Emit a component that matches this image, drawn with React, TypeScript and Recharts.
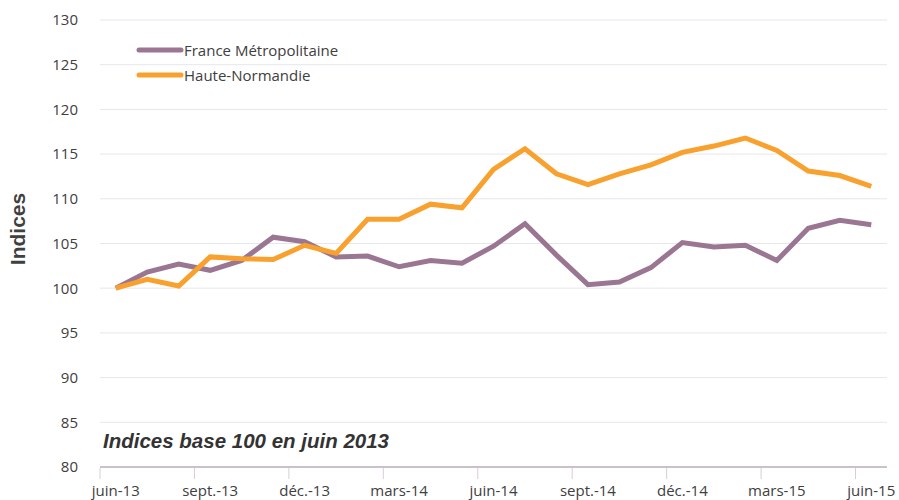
import { LineChart, Line, XAxis, YAxis, CartesianGrid } from "recharts";

document.body.style.margin = "0";

const months = [
    "juin-13", "juil.-13", "août-13", "sept.-13", "oct.-13", "nov.-13", "déc.-13",
    "janv.-14", "févr.-14", "mars-14", "avr.-14", "mai-14", "juin-14", "juil.-14",
    "août-14", "sept.-14", "oct.-14", "nov.-14", "déc.-14", "janv.-15", "févr.-15",
    "mars-15", "avr.-15", "mai-15", "juin-15",
];

const franceMetro = [
    100, 101.8, 102.7, 102.0, 103.1, 105.7, 105.2, 103.5, 103.6, 102.4, 103.1, 102.8, 104.7,
    107.2, 103.7, 100.4, 100.7, 102.3, 105.1, 104.6, 104.8, 103.1, 106.7, 107.6, 107.1,
];

const hauteNormandie = [
    100, 101.0, 100.25, 103.5, 103.3, 103.2, 104.8, 103.9, 107.7, 107.7, 109.4, 109.0, 113.3,
    115.6, 112.8, 111.6, 112.8, 113.8, 115.2, 115.9, 116.8, 115.4, 113.1, 112.6, 111.4,
];

const yTicks = [80, 85, 90, 95, 100, 105, 110, 115, 120, 125, 130];

const data = months.map((m, i) => ({
    mois: m,
    france: franceMetro[i],
    haute: hauteNormandie[i],
}));

const PURPLE = "#9a7692";
const ORANGE = "#f8a12e";
const TEXT = "#404040";

function XTick(props: any) {
    const { x, y, payload } = props;
    const off = payload.offset || 0;
    const axisY = y - 2;
    return (
        <g>
            <line x1={x - off} x2={x - off} y1={axisY - 5} y2={axisY + 6} stroke="#d9cdd6" />
            <text x={x} y={y + 21} textAnchor="middle" fill={TEXT} fontSize={15}
                fontFamily="'Open Sans', sans-serif">
                {payload.value}
            </text>
        </g>
    );
}

const legendItems = [
    { label: "France Métropolitaine", color: PURPLE },
    { label: "Haute-Normandie", color: ORANGE },
];

export default function App() {
    return (
        <div style={{ position: "relative", width: 899, height: 500, background: "#fff" }}>
            <LineChart
                width={899}
                height={500}
                data={data}
                margin={{ top: 20, right: 12, bottom: 3, left: 40 }}
            >
                <CartesianGrid vertical={false} stroke="#e6e6ee" />
                <XAxis
                    dataKey="mois"
                    type="category"
                    scale="band"
                    interval={2}
                    tickLine={false}
                    axisLine={{ stroke: "#a38fa0" }}
                    tick={<XTick />}
                    height={30}
                />
                <YAxis
                    domain={[80, 130]}
                    ticks={yTicks}
                    interval={0}
                    axisLine={false}
                    tickLine={false}
                    width={60}
                    tickMargin={16}
                    tick={{ fill: TEXT, fontSize: 15, fontFamily: "'Open Sans', sans-serif" }}
                />
                <Line dataKey="france" stroke={PURPLE} strokeWidth={5} dot={false}
                    isAnimationActive={false} />
                <Line dataKey="haute" stroke={ORANGE} strokeWidth={5} dot={false}
                    isAnimationActive={false} />
            </LineChart>
            <div style={{ position: "absolute", left: 135, top: 37 }}>
                {legendItems.map((it) => (
                    <div key={it.label} style={{ display: "flex", alignItems: "center", height: 25 }}>
                        <svg width={49} height={10}>
                            <line x1={4} x2={46} y1={5} y2={5} stroke={it.color} strokeWidth={5}
                                strokeLinecap="round" />
                        </svg>
                        <span style={{ fontFamily: "'Open Sans', sans-serif", fontSize: 15, color: TEXT }}>
                            {it.label}
                        </span>
                    </div>
                ))}
            </div>
            <svg width={40} height={500} style={{ position: "absolute", left: 0, top: 0 }}>
                <text x={25} y={229} transform="rotate(-90 25 229)" textAnchor="middle"
                    fontFamily="'Liberation Sans', Arial, sans-serif" fontWeight="bold"
                    fontSize={21} fill={TEXT}>
                    Indices
                </text>
            </svg>
            <div style={{
                position: "absolute", left: 103, top: 431, lineHeight: 1,
                fontFamily: "'Liberation Sans', Arial, sans-serif", whiteSpace: "nowrap",
                fontWeight: "bold", fontStyle: "italic", fontSize: 20.5, color: "#333",
            }}>
                Indices base 100 en juin 2013
            </div>
        </div>
    );
}
